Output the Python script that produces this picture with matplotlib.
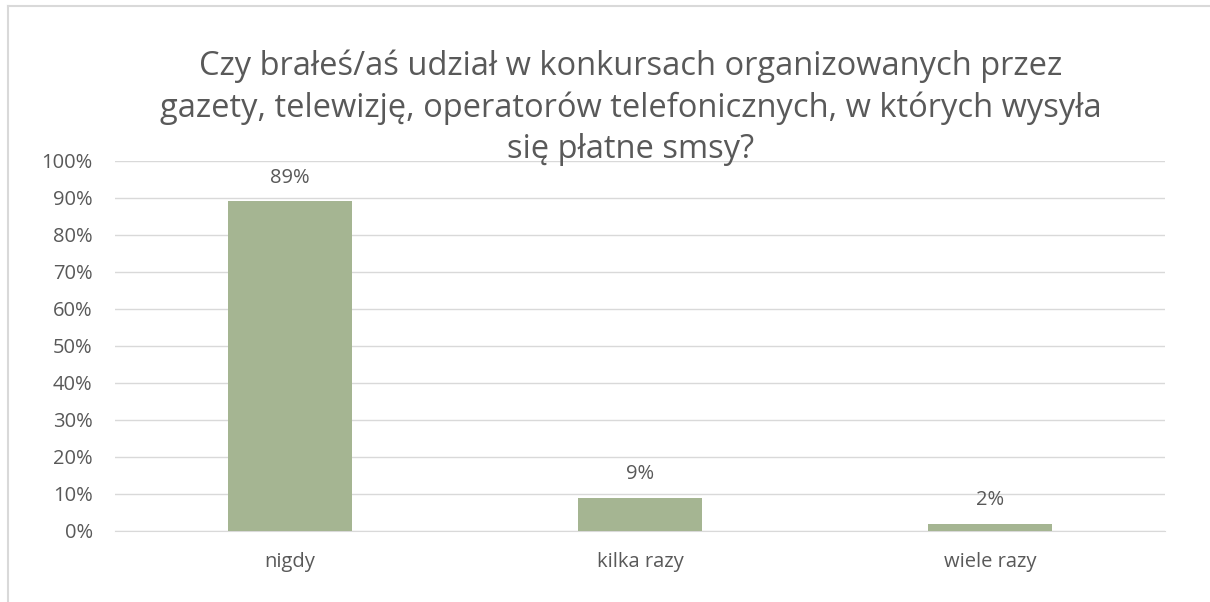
import matplotlib.pyplot as plt
from matplotlib.lines import Line2D
from matplotlib.ticker import PercentFormatter

# Datos
categorias = ['nigdy', 'kilka razy', 'wiele razy']
valores = [89, 9, 2]
etiquetas = ['89%', '9%', '2%']
titulo = ('Czy brałeś/aś udział w konkursach organizowanych przez\n'
          'gazety, telewizję, operatorów telefonicznych, w których wysyła\n'
          'się płatne smsy?')

plt.rcParams['font.family'] = ['Open Sans', 'DejaVu Sans']
texto = '#595959'
rejilla = '#D9D9D9'

fig = plt.figure(figsize=(12.1, 6.02), dpi=100)
ax = fig.add_axes([0.095, 0.118, 0.868, 0.615])

x = range(len(categorias))
barras = ax.bar(x, valores, width=0.354, color='#A5B592', zorder=3)
for b, et in zip(barras, etiquetas):
    ax.annotate(et, (b.get_x() + b.get_width() / 2, b.get_height()),
                xytext=(0, 10), textcoords='offset points',
                ha='center', va='bottom', fontsize=14.5, color=texto)

ax.set_xlim(-0.5, 2.5)
ax.set_ylim(0, 100)
ax.set_yticks(range(0, 101, 10))
ax.yaxis.set_major_formatter(PercentFormatter(decimals=0))
ax.set_xticks(list(x))
ax.set_xticklabels(categorias)
ax.grid(axis='y', color=rejilla, linewidth=1, zorder=0)
ax.tick_params(axis='both', length=0, labelsize=14.5, labelcolor=texto)
ax.tick_params(axis='x', pad=15)
ax.tick_params(axis='y', pad=16)
for s in ['top', 'right', 'left']:
    ax.spines[s].set_visible(False)
ax.spines['bottom'].set_color(rejilla)

fig.text(0.521, 0.918, titulo, ha='center', va='top', fontsize=23.5,
         color=texto, linespacing=1.33)

# Borde del gráfico
fig.add_artist(Line2D([8 / 1210, 1], [1 - 6 / 602, 1 - 6 / 602], color=rejilla, lw=1.5))
fig.add_artist(Line2D([8 / 1210, 8 / 1210], [0, 1 - 6 / 602], color=rejilla, lw=1.5))

fig.savefig('out.png', dpi=100)
